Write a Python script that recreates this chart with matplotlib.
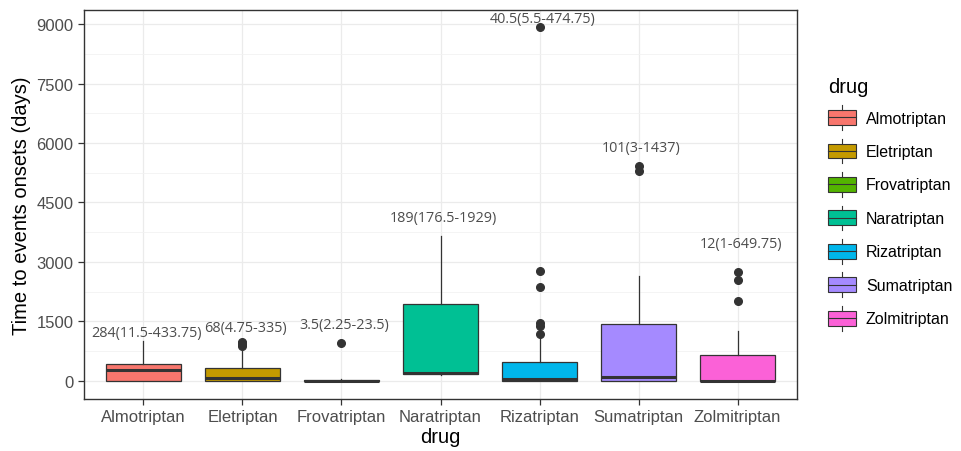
import matplotlib.pyplot as plt
from matplotlib.patches import Rectangle
from matplotlib.lines import Line2D
from matplotlib.legend_handler import HandlerBase
from matplotlib.ticker import MultipleLocator

# ---------- data ----------
drugs = ['Almotriptan', 'Eletriptan', 'Frovatriptan', 'Naratriptan',
         'Rizatriptan', 'Sumatriptan', 'Zolmitriptan']
colors = ['#F8766D', '#C49A00', '#53B400', '#00C094', '#00B6EB', '#A58AFF', '#FB61D7']

medians = [284, 68, 3.5, 189, 40.5, 101, 12]
q1 = [11.5, 4.75, 2.25, 176.5, 5.5, 3, 1]
q3 = [433.75, 335, 23.5, 1929, 474.75, 1437, 649.75]
whis_lo = [0, 0, 0, 160, 0, 0, 0]
whis_hi = [1010, 820, 52, 3660, 1100, 2650, 1270]
outliers = [[], [880, 920, 960, 990], [957], [],
            [1185, 1378, 1462, 2380, 2780, 8924], [5300, 5430], [2025, 2550, 2740]]

labels = ['284(11.5-433.75)', '68(4.75-335)', '3.5(2.25-23.5)', '189(176.5-1929)',
          '40.5(5.5-474.75)', '101(3-1437)', '12(1-649.75)']
label_y = [1235, 1354, 1412, 4127, 9151, 5891, 3454]

# ---------- figure ----------
plt.rcParams['font.family'] = ['Liberation Sans', 'DejaVu Sans']
fig = plt.figure(figsize=(9.61, 4.52), dpi=100)
ax = fig.add_axes([84/961, 1 - 400/452, (797 - 84)/961, (400 - 11)/452])

dark = '#333333'
stats = []
for i, d in enumerate(drugs):
    stats.append(dict(label=d, med=medians[i], q1=q1[i], q3=q3[i],
                      whislo=whis_lo[i], whishi=whis_hi[i], fliers=outliers[i]))

pos = list(range(1, len(drugs) + 1))
bp = ax.bxp(stats, positions=pos, widths=0.75, patch_artist=True, showcaps=False,
            boxprops=dict(edgecolor=dark, linewidth=0.9),
            whiskerprops=dict(color=dark, linewidth=0.9),
            medianprops=dict(color=dark, linewidth=2.2, solid_capstyle='butt'),
            flierprops=dict(marker='o', markerfacecolor=dark, markeredgecolor=dark,
                            markersize=5.5, linestyle='none'),
            zorder=3)
for patch, c in zip(bp['boxes'], colors):
    patch.set_facecolor(c)

for x, txt, y in zip(pos, labels, label_y):
    ax.text(x + 0.03, y, txt, ha='center', va='center', fontsize=10.4,
            family=['Open Sans', 'DejaVu Sans'], color='#4D4D4D', zorder=4)

ax.set_xlim(0.4, 7.6)
ax.set_ylim(-454, 9353)
ax.set_xticks(pos)
ax.set_xticklabels(drugs)
ax.yaxis.set_major_locator(MultipleLocator(1500))
ax.yaxis.set_minor_locator(MultipleLocator(750))

ax.grid(which='major', color='#EBEBEB', linewidth=0.9, zorder=0)
ax.grid(which='minor', axis='y', color='#F2F2F2', linewidth=0.6, zorder=0)
ax.set_axisbelow(True)
for s in ax.spines.values():
    s.set_color(dark)
    s.set_linewidth(1.0)
ax.tick_params(which='major', length=4, width=0.9, color=dark,
               labelsize=12, labelcolor='#4D4D4D')
ax.tick_params(which='minor', length=0)

ax.set_xlabel('drug', fontsize=14.5, color='black', labelpad=2)
ax.set_ylabel('Time to events onsets (days)', fontsize=14.5, color='black', labelpad=4)


# legend with boxplot glyphs
class BoxHandler(HandlerBase):
    def create_artists(self, legend, orig_handle, xdescent, ydescent,
                       width, height, fontsize, trans):
        x0, y0 = -xdescent, -ydescent
        cx = x0 + width / 2
        r = Rectangle((x0, y0 + 0.2 * height), width, 0.6 * height,
                      facecolor=orig_handle.get_facecolor(), edgecolor=dark,
                      linewidth=0.8, transform=trans)
        top = Line2D([cx, cx], [y0 + 0.8 * height, y0 + height], color=dark,
                     linewidth=0.8, transform=trans)
        bot = Line2D([cx, cx], [y0, y0 + 0.2 * height], color=dark,
                     linewidth=0.8, transform=trans)
        med = Line2D([x0, x0 + width], [y0 + 0.5 * height] * 2, color=dark,
                     linewidth=0.8, transform=trans)
        return [r, top, bot, med]


handles = [Rectangle((0, 0), 1, 1, facecolor=c) for c in colors]
leg = fig.legend(handles, drugs, handler_map={Rectangle: BoxHandler()},
                 loc='upper left', bbox_to_anchor=(814/961, 1 - 64/452),
                 frameon=False, fontsize=11.5, title='drug', title_fontsize=14.5,
                 handlelength=1.75, handleheight=2.0, labelspacing=0.55,
                 handletextpad=0.6, alignment='left')

fig.savefig('out.png', dpi=100)
